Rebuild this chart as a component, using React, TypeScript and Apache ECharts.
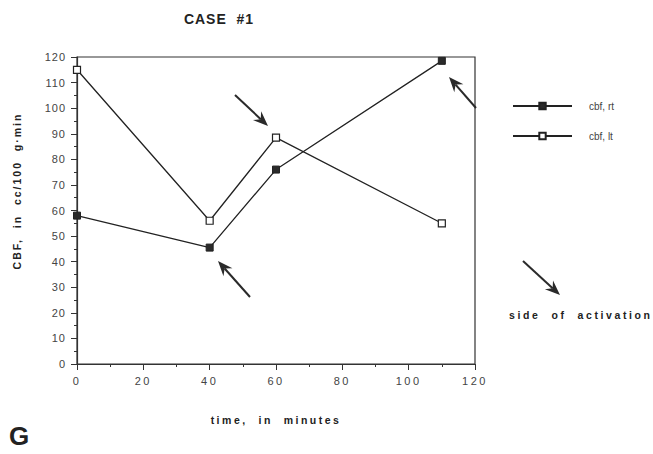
import React, { useEffect, useRef } from "react";
import * as echarts from "echarts";

const times = [0, 40, 60, 110];
const cbfRt = [58, 45.5, 76, 118.5];
const cbfLt = [115, 56, 88.5, 55];
const seriesNames = ["cbf, rt", "cbf, lt"];
const titleText = "CASE  #1";
const xAxisName = "time,  in  minutes";
const yAxisName = "CBF,  in  cc/100  g·min";
const noteText = "side  of  activation";
const panelLetter = "G";

function arrow(x1: number, y1: number, x2: number, y2: number) {
  const dx = x2 - x1;
  const dy = y2 - y1;
  const len = Math.sqrt(dx * dx + dy * dy);
  const ux = dx / len;
  const uy = dy / len;
  const px = -uy;
  const py = ux;
  const hl = 15;
  const hw = 6;
  const notch = 10;
  const bx = x2 - ux * hl;
  const by = y2 - uy * hl;
  const nx = x2 - ux * notch;
  const ny = y2 - uy * notch;
  return [
    {
      type: "line",
      shape: { x1, y1, x2: nx, y2: ny },
      style: { stroke: "#2a2a2a", lineWidth: 2 },
    },
    {
      type: "polygon",
      shape: {
        points: [
          [x2, y2],
          [bx + px * hw, by + py * hw],
          [nx, ny],
          [bx - px * hw, by - py * hw],
        ],
      },
      style: { fill: "#2a2a2a" },
    },
  ];
}

export default function App() {
  const ref = useRef<HTMLDivElement>(null);
  useEffect(() => {
    if (!ref.current) return;
    const chart = echarts.init(ref.current, null, { renderer: "svg" });
    const font = "Liberation Sans, Arial, Helvetica, sans-serif";
    chart.setOption({
      animation: false,
      backgroundColor: "#ffffff",
      textStyle: { fontFamily: font },
      title: {
        text: titleText,
        left: 219,
        top: 12,
        padding: 0,
        textAlign: "center",
        textStyle: { fontSize: 14, fontWeight: "bold", color: "#222", fontFamily: font },
      },
      grid: {
        left: 77,
        right: 178,
        top: 57,
        bottom: 90,
        show: true,
        borderColor: "#333",
        borderWidth: 1.2,
        backgroundColor: "transparent",
      },
      legend: {
        orient: "vertical",
        left: 512,
        top: 101,
        padding: 0,
        itemWidth: 59,
        itemHeight: 8,
        itemGap: 20,
        data: seriesNames,
        textStyle: { fontSize: 10, color: "#444", padding: [0, 0, 0, 12] },
      },
      xAxis: {
        type: "value",
        min: 0,
        max: 120,
        interval: 20,
        name: xAxisName,
        nameLocation: "middle",
        nameGap: 50,
        nameTextStyle: { fontSize: 10.5, fontWeight: "bold", color: "#222" },
        axisLine: { lineStyle: { color: "#333", width: 1.2 } },
        axisTick: { length: 6, lineStyle: { color: "#333" } },
        minorTick: { show: true, splitNumber: 2, length: 3, lineStyle: { color: "#333" } },
        splitLine: { show: false },
        axisLabel: { fontSize: 11, color: "#444", margin: 11 },
      },
      yAxis: {
        type: "value",
        min: 0,
        max: 120,
        interval: 10,
        axisLine: { show: true, lineStyle: { color: "#333", width: 1.2 } },
        axisTick: { show: true, length: 6, lineStyle: { color: "#333" } },
        minorTick: { show: true, splitNumber: 2, length: 3, lineStyle: { color: "#333" } },
        splitLine: { show: false },
        axisLabel: { fontSize: 11, color: "#444", margin: 11 },
      },
      series: [
        {
          name: seriesNames[0],
          type: "line",
          data: times.map((t, i) => [t, cbfRt[i]]),
          symbol: "rect",
          symbolSize: 7,
          lineStyle: { color: "#222", width: 1.3 },
          itemStyle: { color: "#2a2a2a", borderColor: "#222", borderWidth: 1 },
        },
        {
          name: seriesNames[1],
          type: "line",
          data: times.map((t, i) => [t, cbfLt[i]]),
          symbol: "rect",
          symbolSize: 7,
          lineStyle: { color: "#222", width: 1.3 },
          itemStyle: { color: "#ffffff", borderColor: "#222", borderWidth: 1.2 },
        },
      ],
      graphic: [
        {
          type: "text",
          x: 17,
          y: 191,
          rotation: Math.PI / 2,
          style: {
            text: yAxisName,
            fontSize: 10.5,
            fontWeight: "bold",
            fill: "#222",
            fontFamily: font,
            align: "center",
            verticalAlign: "middle",
          },
        },
        {
          type: "text",
          x: 509,
          y: 315,
          style: {
            text: noteText,
            fontSize: 10.5,
            fontWeight: "bold",
            fill: "#222",
            fontFamily: font,
            align: "left",
            verticalAlign: "middle",
          },
        },
        {
          type: "text",
          x: 9,
          y: 436,
          style: {
            text: panelLetter,
            fontSize: 26,
            fontWeight: "bold",
            fill: "#222",
            fontFamily: font,
            align: "left",
            verticalAlign: "middle",
          },
        },
        ...arrow(235, 95, 268, 126),
        ...arrow(250, 297, 218, 261),
        ...arrow(476, 108, 449, 77),
        ...arrow(523, 261, 560, 295),
      ],
    });
    const spacing: Record<string, number> = {
      [titleText]: 1,
      [xAxisName]: 2.5,
      [yAxisName]: 2,
      [noteText]: 2.6,
    };
    const texts = ref.current.querySelectorAll("text");
    texts.forEach((t) => {
      const s = t.textContent || "";
      if (spacing[s] !== undefined) {
        t.style.letterSpacing = spacing[s] + "px";
      } else if (/^\d+$/.test(s)) {
        const anchor = t.getAttribute("text-anchor");
        t.style.letterSpacing = anchor === "middle" ? "2.5px" : "1px";
      }
    });
    return () => chart.dispose();
  }, []);
  return (
    <div
      ref={ref}
      style={{ position: "absolute", left: 0, top: 0, width: 653, height: 454 }}
    />
  );
}
